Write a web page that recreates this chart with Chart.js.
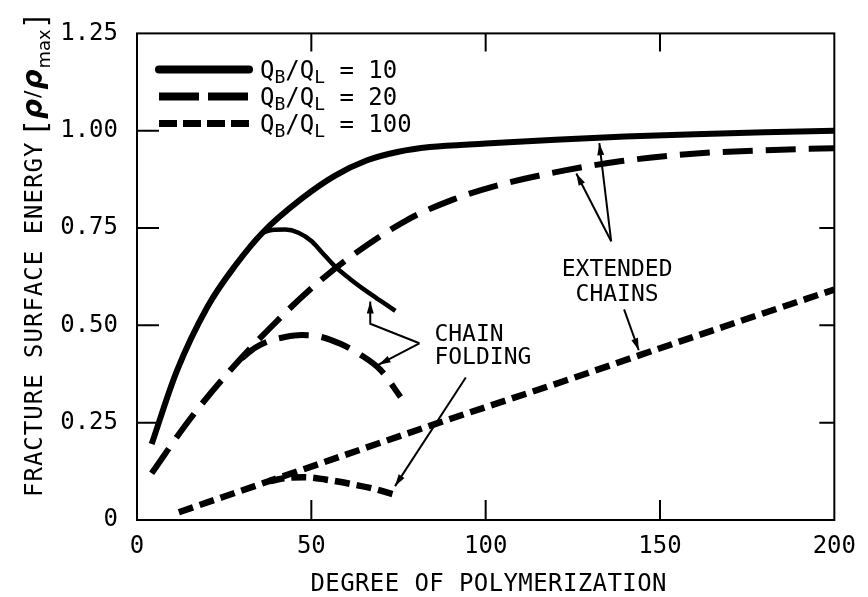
<!DOCTYPE html>
<html>
<head>
<meta charset="utf-8">
<script src="https://cdn.jsdelivr.net/npm/chart.js@4/dist/chart.umd.min.js"></script>
<style>
  html, body { margin: 0; padding: 0; background: #fff; }
  #wrap { width: 868px; height: 597px; }
</style>
</head>
<body>
<div id="wrap"><canvas id="c" width="868" height="597"></canvas></div>
<script>
// ---- axis ticks ----
const xTickValues = [0, 50, 100, 150, 200];
const yTickValues = [0, 0.25, 0.5, 0.75, 1.0, 1.25];
const yTickLabels = ['0', '0.25', '0.50', '0.75', '1.00', '1.25'];
const ratioLabels = ['10', '20', '100'];

// ---- Q_B/Q_L = 10 ----
const ext10X = [4.2, 11.3, 20.3, 28.3, 36, 47.3, 56.7, 66, 75, 84, 100, 120, 140, 160, 180, 200];
const ext10Y = [0.195, 0.38, 0.549, 0.655, 0.738, 0.826, 0.884, 0.924, 0.946, 0.958, 0.967, 0.977, 0.985, 0.991, 0.996, 1.0];
const fold10X = [36, 38.7, 42.5, 46.3, 50.1, 53, 56.7, 61, 66.1, 70, 74.1];
const fold10Y = [0.738, 0.745, 0.746, 0.738, 0.716, 0.688, 0.652, 0.620, 0.586, 0.562, 0.537];

// ---- Q_B/Q_L = 20 ----
const ext20X = [4.2, 15, 26.3, 37.8, 49, 60.3, 77.3, 90.6, 101.9, 122.7, 139, 159.5, 180, 200];
const ext20Y = [0.12, 0.257, 0.38, 0.49, 0.587, 0.67, 0.77, 0.823, 0.856, 0.898, 0.922, 0.941, 0.950, 0.955];
const fold20X = [30, 34, 38, 42.5, 47.2, 52, 58.5, 64.2, 69.9, 75.6];
const fold20Y = [0.415, 0.443, 0.46, 0.47, 0.475, 0.472, 0.452, 0.424, 0.385, 0.316];

// ---- Q_B/Q_L = 100 ----
const ext100X = [12, 47, 85, 125.5, 144.4, 172.7, 200];
const ext100Y = [0.02, 0.128, 0.245, 0.366, 0.424, 0.51, 0.592];
const fold100X = [38, 43, 48, 54, 61, 68, 73.5];
const fold100Y = [0.1, 0.108, 0.11, 0.104, 0.093, 0.08, 0.066];

// ---- callouts (chart value coordinates) ----
const notes = [
  { text: 'EXTENDED', x: 137.7, y: 0.643, align: 'center' },
  { text: 'CHAINS',   x: 137.7, y: 0.579, align: 'center' },
  { text: 'CHAIN',    x: 85.3,  y: 0.476, align: 'left' },
  { text: 'FOLDING',  x: 85.3,  y: 0.416, align: 'left' }
];
const pointers = [
  [[136, 0.716], [126, 0.89]],
  [[136, 0.716], [132.6, 0.968]],
  [[139.7, 0.541], [143.9, 0.436]],
  [[81, 0.454], [66.9, 0.504], [66.9, 0.561]],
  [[81, 0.454], [69.3, 0.399]],
  [[94.3, 0.366], [74, 0.087]]
];

const MONO = '"DejaVu Sans Mono", monospace';
const SANS = '"DejaVu Sans", sans-serif';
const LONG_DASH = [30, 13];
const SHORT_DASH = [15, 7];

const pts = (xs, ys) => xs.map((x, i) => ({ x, y: ys[i] }));

function series(xs, ys, width, dash) {
  return {
    data: pts(xs, ys),
    borderColor: '#000',
    borderWidth: width,
    borderDash: dash,
    borderCapStyle: 'butt',
    pointRadius: 0,
    fill: false,
    cubicInterpolationMode: 'monotone'
  };
}

function drawRich(ctx, x, y, parts) {
  let cx = x;
  for (const p of parts) {
    ctx.font = p.font;
    ctx.fillText(p.t, cx, y + (p.dy || 0));
    cx += ctx.measureText(p.t).width + (p.gap || 0);
  }
  return cx;
}

function drawArrow(ctx, path) {
  ctx.beginPath();
  ctx.moveTo(path[0][0], path[0][1]);
  for (let i = 1; i < path.length; i++) ctx.lineTo(path[i][0], path[i][1]);
  ctx.stroke();
  const [x1, y1] = path[path.length - 2];
  const [x2, y2] = path[path.length - 1];
  const a = Math.atan2(y2 - y1, x2 - x1);
  const L = 12, W = 3.5;
  ctx.beginPath();
  ctx.moveTo(x2, y2);
  ctx.lineTo(x2 - L * Math.cos(a) + W * Math.sin(a), y2 - L * Math.sin(a) - W * Math.cos(a));
  ctx.lineTo(x2 - L * Math.cos(a) - W * Math.sin(a), y2 - L * Math.sin(a) + W * Math.cos(a));
  ctx.closePath();
  ctx.fill();
}

const decorations = {
  id: 'decorations',
  afterDraw(chart) {
    const { ctx, chartArea: a, scales: { x, y } } = chart;
    const px = (vx, vy) => [x.getPixelForValue(vx), y.getPixelForValue(vy)];
    ctx.save();
    ctx.strokeStyle = '#000';
    ctx.fillStyle = '#000';

    // frame
    ctx.lineWidth = 2;
    ctx.strokeRect(a.left, a.top, a.right - a.left, a.bottom - a.top);

    // inward tick marks
    ctx.beginPath();
    xTickValues.slice(1, -1).forEach(v => {
      const p = x.getPixelForValue(v);
      ctx.moveTo(p, a.bottom); ctx.lineTo(p, a.bottom - 20);
      ctx.moveTo(p, a.top); ctx.lineTo(p, a.top + 18);
    });
    yTickValues.slice(1, -1).forEach(v => {
      const p = y.getPixelForValue(v);
      ctx.moveTo(a.left, p); ctx.lineTo(a.left + 22, p);
      ctx.moveTo(a.right, p); ctx.lineTo(a.right - 15, p);
    });
    ctx.stroke();

    // legend
    const legendStyles = [
      { dash: [], width: 8, cap: 'round' },
      { dash: [40, 9], width: 8, cap: 'butt' },
      { dash: [18, 6], width: 7, cap: 'butt' }
    ];
    ratioLabels.forEach((r, i) => {
      const ly = a.top + 36 + i * 27;
      const st = legendStyles[i];
      ctx.save();
      ctx.lineWidth = st.width;
      ctx.lineCap = st.cap;
      ctx.setLineDash(st.dash);
      ctx.beginPath();
      ctx.moveTo(a.left + 22, ly);
      ctx.lineTo(a.left + 112, ly);
      ctx.stroke();
      ctx.restore();
      ctx.textAlign = 'left';
      ctx.textBaseline = 'alphabetic';
      drawRich(ctx, a.left + 123, ly + 9, [
        { t: 'Q', font: '24px ' + MONO },
        { t: 'B', font: '18px ' + MONO, dy: 5 },
        { t: '/', font: '24px ' + MONO },
        { t: 'Q', font: '24px ' + MONO },
        { t: 'L', font: '18px ' + MONO, dy: 5 },
        { t: ' = ' + r, font: '24px ' + MONO }
      ]);
    });

    // callout text
    ctx.font = '23px ' + MONO;
    ctx.textBaseline = 'middle';
    notes.forEach(n => {
      const [tx, ty] = px(n.x, n.y);
      ctx.textAlign = n.align;
      ctx.fillText(n.text, tx, ty);
    });

    // callout arrows
    ctx.lineWidth = 2;
    pointers.forEach(p => drawArrow(ctx, p.map(q => px(q[0], q[1]))));

    // x-axis title
    ctx.font = '24px ' + MONO;
    ctx.textAlign = 'center';
    ctx.textBaseline = 'middle';
    ctx.letterSpacing = '0.4px';
    ctx.fillText('DEGREE OF POLYMERIZATION', (a.left + a.right) / 2 + 3, a.bottom + 65);

    // y-axis title
    ctx.save();
    ctx.translate(a.left - 95, a.bottom - 23);
    ctx.rotate(-Math.PI / 2);
    ctx.textAlign = 'left';
    ctx.textBaseline = 'alphabetic';
    ctx.letterSpacing = '1px';
    ctx.font = '24px ' + MONO;
    const title = 'FRACTURE SURFACE ENERGY';
    ctx.fillText(title, 0, 0);
    const cx = ctx.measureText(title).width + 9;
    ctx.letterSpacing = '0px';
    drawRich(ctx, cx, 0, [
      { t: '[', font: '30px ' + SANS, dy: 4, gap: 2 },
      { t: '\u03C1', font: 'italic 700 28px ' + SANS, gap: 1 },
      { t: '/', font: '22px ' + SANS, dy: -2, gap: 1 },
      { t: '\u03C1', font: 'italic 700 28px ' + SANS, gap: 1 },
      { t: 'max', font: '18px ' + SANS, dy: 8, gap: 2 },
      { t: ']', font: '30px ' + SANS, dy: 4 }
    ]);
    ctx.restore();

    ctx.restore();
  }
};

new Chart(document.getElementById('c'), {
  type: 'line',
  data: {
    datasets: [
      series(ext10X, ext10Y, 6, []),
      series(fold10X, fold10Y, 4.5, []),
      series(ext20X, ext20Y, 6, LONG_DASH),
      series(fold20X, fold20Y, 6, LONG_DASH),
      series(ext100X, ext100Y, 6.5, SHORT_DASH),
      series(fold100X, fold100Y, 6.5, SHORT_DASH)
    ]
  },
  options: {
    responsive: false,
    animation: false,
    devicePixelRatio: 1,
    layout: { padding: { top: 17, right: 25, left: 0, bottom: 0 } },
    plugins: { legend: { display: false }, tooltip: { enabled: false } },
    scales: {
      x: {
        type: 'linear',
        min: 0, max: 200,
        afterBuildTicks: s => { s.ticks = xTickValues.map(v => ({ value: v })); },
        afterFit: s => { s.height = 77; },
        grid: { display: false, drawTicks: false },
        border: { display: false },
        ticks: { color: '#000', font: { family: MONO, size: 24 }, padding: 12, maxRotation: 0 }
      },
      y: {
        type: 'linear',
        min: 0, max: 1.25,
        afterBuildTicks: s => { s.ticks = yTickValues.map(v => ({ value: v })); },
        afterFit: s => { s.width = 137; },
        grid: { display: false, drawTicks: false },
        border: { display: false },
        ticks: {
          color: '#000',
          font: { family: MONO, size: 24 },
          padding: 19,
          callback: (v) => yTickLabels[yTickValues.indexOf(v)]
        }
      }
    }
  },
  plugins: [decorations]
});
</script>
</body>
</html>
